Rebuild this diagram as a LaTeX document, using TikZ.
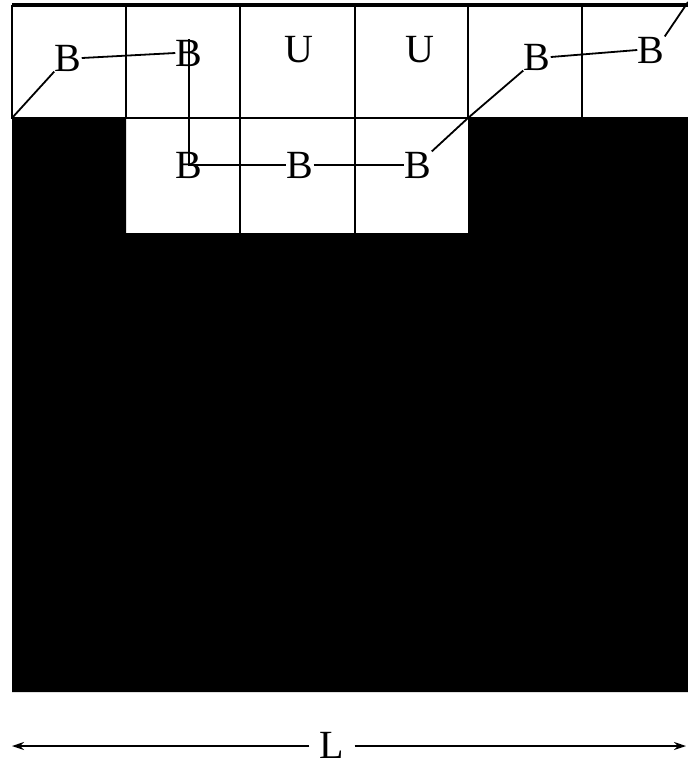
\documentclass[tikz,border=0pt]{standalone}
\usepackage{fontspec}
\setmainfont{Liberation Serif}
\usetikzlibrary{arrows.meta}
\begin{document}
\begin{tikzpicture}[x=0.5pt, y=-0.5pt,
    grid/.style={line width=0.8pt},
    lbl/.style={inner sep=0pt, font=\fontsize{20}{24}\selectfont},
    trail/.style={line width=0.9pt}]
  \useasboundingbox (0,0) rectangle (688,768);
  % solid region
  \fill (12,118) -- (126,118) -- (126,233) -- (468,233) -- (468,118)
    -- (688,118) -- (688,692) -- (12,692) -- cycle;
  % cells
  \draw[line width=1.6pt] (12,5) -- (688,5);
  \draw[grid] (12,5) -- (12,118) -- (688,118);
  \foreach \x in {126,240,355,468,582}
    \draw[grid] (\x,5) -- (\x,118);
  \foreach \x in {240,355}
    \draw[grid] (\x,118) -- (\x,233);
  % labels, top row
  \node[lbl] (b1) at (68,58) {B};
  \node[lbl] (b2) at (189,53) {B};
  \node[lbl] (u1) at (299,50) {U};
  \node[lbl] (u2) at (420,50) {U};
  \node[lbl] (b5) at (537,57) {B};
  \node[lbl] (b6) at (651,50) {B};
  % labels, second row
  \node[lbl] (c2) at (189,165) {B};
  \node[lbl] (c3) at (300,165) {B};
  \node[lbl] (c4) at (418,165) {B};
  \coordinate (start) at (12,118);
  \coordinate (notch) at (468,118);
  \coordinate (exit) at (688,2);
  % path of B cells
  \draw[trail] (start) -- (b1.south west) (b1.east) -- (b2.west);
  \draw[trail] (b2.north) -- (c2.center) -- (c3.west) (c3.east) -- (c4.west);
  \draw[trail] (c4.north east) -- (notch) -- (b5.south west);
  \draw[trail] (b5.east) -- (b6.west) (b6.north east) -- (exit);
  % width
  \node[lbl, inner xsep=5pt] (len) at (332,745) {L};
  \coordinate (lft) at (12,746);
  \coordinate (rgt) at (686,746);
  \draw[-{Stealth[length=6pt,width=4pt]}, line width=0.8pt] (len.west |- lft) -- (lft);
  \draw[-{Stealth[length=6pt,width=4pt]}, line width=0.8pt] (len.east |- rgt) -- (rgt);
\end{tikzpicture}
\end{document}
